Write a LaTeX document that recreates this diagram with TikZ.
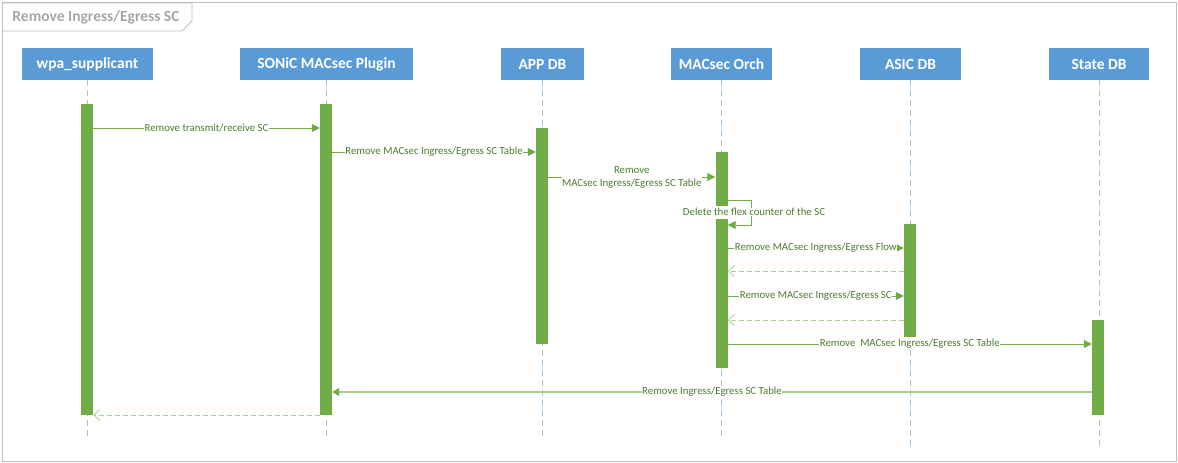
\documentclass[tikz,border=0pt]{standalone}
\usepackage{fontspec}
\setmainfont{Carlito}
\usetikzlibrary{arrows.meta}
\definecolor{headblue}{HTML}{5B9BD5}
\definecolor{bargreen}{HTML}{70AD47}
\definecolor{lightgreen}{HTML}{A9D18E}
\definecolor{textgreen}{HTML}{4E7A2E}
\definecolor{lifeblue}{HTML}{9DC3E6}
\definecolor{framegray}{HTML}{BFBFBF}
\definecolor{titlegray}{HTML}{A6A6A6}
\tikzset{
  head/.style    = { fill=headblue, text=white, font=\fontsize{15.5}{18}\selectfont\bfseries, minimum height=32pt, inner sep=0pt },
  life/.style    = { lifeblue, dash pattern=on 6pt off 4pt },
  bar/.style     = { fill=bargreen, minimum width=12pt, inner sep=0pt },
  msg/.style     = { bargreen, line width=0.8pt, -{Triangle[length=8pt,width=8pt]} },
  msgfade/.style = { lightgreen, line width=2pt, -{Triangle[length=7pt,width=8pt,color=bargreen]} },
  ret/.style     = { lightgreen, line width=0.8pt, dash pattern=on 5pt off 3pt, -{Straight Barb[length=6pt,width=11pt]} },
  lbl/.style     = { fill=white, text=textgreen, font=\fontsize{10.8}{13}\selectfont, inner sep=0.5pt, align=center }
}

\begin{document}
\begin{tikzpicture}[x=1pt,y=-1pt]
  \useasboundingbox (0,0) rectangle (1178,463);

  % Draw frame
  \draw[framegray, line width=1pt] (2,2) rectangle (1176,461);
  \draw[framegray, line width=0.8pt] (3,3) -- (192,3) -- (192,21) -- (182,31) -- (3,31);
  \node[text=titlegray, font=\fontsize{15.5}{18}\selectfont\bfseries] (title) at (96,17) {Remove Ingress/Egress SC};

  % Draw all heads
  \node[head, minimum width=131pt] (wpa)     at (87.5,64)  {wpa\_supplicant};
  \node[head, minimum width=173pt] (plugin)  at (326.5,64) {SONiC MACsec Plugin};
  \node[head, minimum width=83pt]  (appdb)   at (542.5,64) {APP DB};
  \node[head, minimum width=101pt] (orch)    at (721.5,64) {MACsec Orch};
  \node[head, minimum width=101pt] (asicdb)  at (910.5,64) {ASIC DB};
  \node[head, minimum width=100pt] (statedb) at (1099,64)  {State DB};

  % Draw lifelines
  \draw[life] (wpa.south)     -- (wpa.south |- 0,437);
  \draw[life] (plugin.south)  -- (plugin.south |- 0,437);
  \draw[life] (appdb.south)   -- (appdb.south |- 0,437);
  \draw[life] (orch.south)    -- (orch.south |- 0,437);
  \draw[life] (asicdb.south)  -- (asicdb.south |- 0,450);
  \draw[life] (statedb.south) -- (statedb.south |- 0,450);

  % Draw activations
  \node[bar, minimum height=311pt] (wpabar)   at (87,259.5)    {};
  \node[bar, minimum height=311pt] (plugbar)  at (326,259.5)   {};
  \node[bar, minimum height=216pt] (appbar)   at (542,236)     {};
  \node[bar, minimum height=54pt]  (orchbarA) at (721.5,179)   {};
  \node[bar, minimum height=149pt] (orchbarB) at (721.5,293.5) {};
  \node[bar, minimum height=113pt] (asicbar)  at (910,280.5)   {};
  \node[bar, minimum height=95pt]  (statebar) at (1098,367.5)  {};

  % Draw messages
  \draw[msg] (wpabar.east |- 0,128)   -- node[lbl] {Remove transmit/receive SC} (plugbar.west |- 0,128);
  \draw[msg] (plugbar.east |- 0,152)  -- node[lbl] {Remove MACsec Ingress/Egress SC Table} (appbar.west |- 0,152);
  \draw[msg] (appbar.east |- 0,177)   -- node[lbl] {Remove\\MACsec Ingress/Egress SC Table} (orchbarA.west |- 0,177);
  \draw[msg] (orchbarA.east |- 0,200) -- ++(24,0) |- (orchbarB.east |- 0,225);
  \node[lbl] (flex) at (754,212) {Delete the flex counter of the SC};
  \draw[msg] (orchbarB.east |- 0,248) -- node[lbl] {Remove MACsec Ingress/Egress Flow} (asicbar.west |- 0,248);
  \draw[ret] (asicbar.west |- 0,271)  -- (orchbarB.east |- 0,271);
  \draw[msg] (orchbarB.east |- 0,296) -- node[lbl] {Remove MACsec Ingress/Egress SC} (asicbar.west |- 0,296);
  \draw[ret] (asicbar.west |- 0,320)  -- (orchbarB.east |- 0,320);
  \draw[msg] (orchbarB.east |- 0,344) -- node[lbl] {Remove\ \ MACsec Ingress/Egress SC Table} (statebar.west |- 0,344);
  \draw[msgfade] (statebar.west |- 0,392) -- node[lbl] {Remove Ingress/Egress SC Table} (plugbar.east |- 0,392);
  \draw[ret] (plugbar.west |- 0,415)  -- (wpabar.east |- 0,415);
\end{tikzpicture}
\end{document}
